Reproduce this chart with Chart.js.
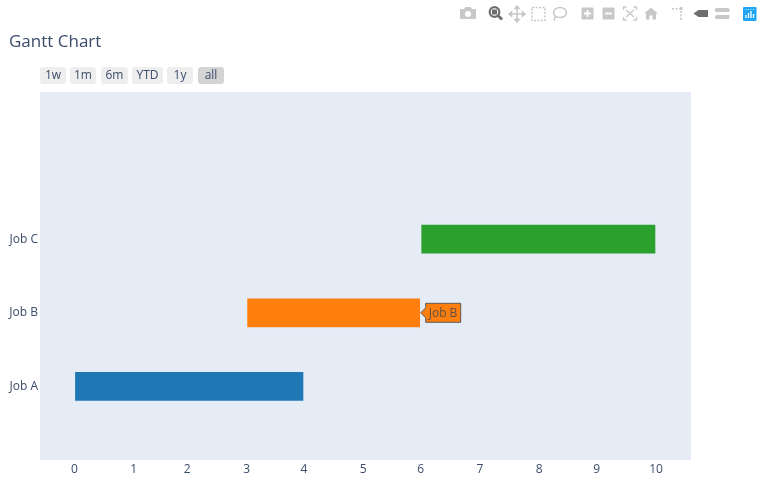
<!DOCTYPE html>
<html><head><meta charset="utf-8">
<script src="https://cdn.jsdelivr.net/npm/chart.js@4"></script>
<style>
html,body{margin:0;padding:0;background:#fff;overflow:hidden}
#wrap{position:relative;width:768px;height:495px;font-family:"Open Sans",sans-serif;color:#2a3f5f}
canvas{position:absolute;left:0;top:0}
#title{position:absolute;left:9px;top:31px;font-size:17px;line-height:20px;color:#3b4c6b}
.btn{position:absolute;top:67px;height:17px;line-height:16px;border-radius:3px;background:#eeeeee;text-align:center;font-size:12px;color:#3b4c6b}
.btn.on{background:#d4d4d4}
#tools{position:absolute;left:0;top:0}
</style></head><body>
<div id="wrap">
<canvas id="c" width="768" height="495"></canvas>
<div id="title">Gantt Chart</div>
<div class="btn" style="left:40px;width:26px">1w</div>
<div class="btn" style="left:70px;width:26px">1m</div>
<div class="btn" style="left:101px;width:27px">6m</div>
<div class="btn" style="left:132px;width:31px">YTD</div>
<div class="btn" style="left:167px;width:26px">1y</div>
<div class="btn on" style="left:198px;width:26px">all</div>
<svg id="tools" width="768" height="30" viewBox="0 0 768 30">
 <g fill="#c8c8c8" stroke="none">
  <path d="M461 9h3l1.5-2h5l1.5 2h3a1 1 0 0 1 1 1v8a1 1 0 0 1-1 1h-14a1 1 0 0 1-1-1v-8a1 1 0 0 1 1-1z"/>
  <circle cx="468" cy="14" r="3" fill="#fff"/>
 </g>
 <g fill="none" stroke="#6e6e6e" stroke-width="2.2">
  <circle cx="494.500" cy="12" r="4.800"/><path d="M498 15.500l4 4" stroke-width="2.800"/>
 </g>
 <rect x="492" y="9.500" width="5" height="5" fill="#6e6e6e"/>
 <g stroke="#c8c8c8" stroke-width="1.600" fill="#c8c8c8">
  <path d="M517 7v14M510 14h14"/>
  <path d="M517 6l-2 2.500h4zM517 22l-2-2.500h4zM509 14l2.500-2v4zM525 14l-2.500-2v4z"/>
 </g>
 <rect x="532" y="7.500" width="13" height="13" fill="none" stroke="#c8c8c8" stroke-width="1.500" stroke-dasharray="2 1.500"/>
 <ellipse cx="560" cy="12.500" rx="6.500" ry="5" fill="none" stroke="#c8c8c8" stroke-width="1.500"/>
 <path d="M555 16c0 2 0 3-1 4.500" fill="none" stroke="#c8c8c8" stroke-width="1.500"/>
 <rect x="581.500" y="7.500" width="12" height="12" rx="1" fill="#c8c8c8"/>
 <path d="M587.500 10v7M584 13.500h7" stroke="#fff" stroke-width="1.800"/>
 <rect x="602.500" y="7.500" width="12" height="12" rx="1" fill="#c8c8c8"/>
 <path d="M605 13.500h7" stroke="#fff" stroke-width="1.800"/>
 <g fill="none" stroke="#c8c8c8" stroke-width="1.300">
  <path d="M623.500 10V7h3M633.500 7h3v3M636.500 17v3h-3M626.500 20h-3v-3M626 10l8 7M634 10l-8 7"/>
 </g>
 <path d="M651 7.500l7 6h-2v6h-3.500v-4h-3v4H646v-6h-2z" fill="#c8c8c8"/>
 <g fill="#c8c8c8">
  <path d="M672 8h2v1.500h-2zM675.500 8h2v1.500h-2z"/>
  <circle cx="681" cy="8.500" r="1.800"/><rect x="680.200" y="11" width="1.600" height="2"/><rect x="680.200" y="14.500" width="1.600" height="2"/><rect x="680.200" y="18" width="1.600" height="2"/>
 </g>
 <path d="M693.500 13.500l5-3.500h9.500v7h-9.500z" fill="#6e6e6e"/>
 <path d="M716 8h12a1.500 1.500 0 0 1 1.500 1.500v2.500h-13.500l-1.500-2zM716 19h12a1.500 1.500 0 0 0 1.500-1.500v-2.500h-13.500l-1.500 2z" fill="#c8c8c8"/>
 <rect x="743" y="7" width="13.500" height="14" rx="1" fill="#1fa5f5"/>
 <path d="M746 18v-3M748.500 18v-5M751 18v-7M753.500 18v-4" stroke="#fff" stroke-width="1.300"/>
 <path d="M745.500 9.500h1M748 9.500h1M750.500 9.500h1M753 9.500h1" stroke="#fff" stroke-width="0.800"/>
</svg>
</div>
<script>
// The x axis is a date axis in the original: ticks 0..10 sit on month starts, measured here in days.
const categories = ["", "Job A", "Job B", "Job C", "", ""];
const startDays = [null, 0, 90, 181, null, null];
const finishDays = [null, 120, 181, 304, null, null];
const barColors = ["#1f77b4", "#1f77b4", "#ff7f0e", "#2ca02c", "#1f77b4", "#1f77b4"];
const xTickDays = [0, 31, 59, 90, 120, 151, 181, 212, 243, 273, 304];
const xTickLabels = ["0", "1", "2", "3", "4", "5", "6", "7", "8", "9", "10"];
const xMinDay = -18, xMaxDay = 322.3;
const hoverIndex = 2;

const FONT = '"Open Sans", sans-serif';
const INK = "#3b4c6b";

const hoverLabel = {
  id: "hoverLabel",
  afterDatasetsDraw(chart) {
    const c = chart.ctx;
    const x0 = chart.scales.x.getPixelForValue(finishDays[hoverIndex]);
    const y0 = chart.scales.y.getPixelForValue(hoverIndex);
    const text = categories[hoverIndex];
    c.save();
    c.font = "12px " + FONT;
    const w = 35, h = 19, tip = 5;
    const left = x0 + tip;
    c.beginPath();
    c.moveTo(x0, y0);
    c.lineTo(left, y0 - 5);
    c.lineTo(left, y0 - h / 2);
    c.lineTo(left + w, y0 - h / 2);
    c.lineTo(left + w, y0 + h / 2);
    c.lineTo(left, y0 + h / 2);
    c.lineTo(left, y0 + 5);
    c.closePath();
    c.fillStyle = barColors[hoverIndex];
    c.fill();
    c.lineWidth = 1;
    c.strokeStyle = "#5f5a57";
    c.stroke();
    c.fillStyle = "#5b5047";
    c.textAlign = "left";
    c.textBaseline = "middle";
    c.fillText(text, left + 3, y0 + 0.5);
    c.restore();
  }
};

new Chart(document.getElementById("c"), {
  type: "bar",
  data: {
    labels: categories,
    datasets: [{
      data: categories.map((_, i) => startDays[i] === null ? null : [startDays[i], finishDays[i]]),
      backgroundColor: barColors,
      borderColor: "rgba(229,236,246,0.25)",
      borderWidth: 1,
      borderSkipped: false,
      barThickness: 30
    }]
  },
  options: {
    indexAxis: "y",
    responsive: false,
    animation: false,
    devicePixelRatio: 1,
    layout: { padding: { top: 92, right: 77, left: 0, bottom: 0 } },
    plugins: { legend: { display: false }, tooltip: { enabled: false }, title: { display: false } },
    scales: {
      x: {
        type: "linear",
        min: xMinDay,
        max: xMaxDay,
        grid: { display: false, drawTicks: false },
        border: { display: false },
        afterFit(s) { s.height = 35; },
        afterBuildTicks(s) { s.ticks = xTickDays.map(v => ({ value: v })); },
        ticks: {
          color: INK,
          font: { family: FONT, size: 12 },
          padding: 2,
          maxRotation: 0,
          autoSkip: false,
          callback(value) { return xTickLabels[xTickDays.indexOf(value)]; }
        }
      },
      y: {
        type: "category",
        offset: false,
        reverse: true,
        grid: { display: false, drawTicks: false },
        border: { display: false },
        afterFit(s) { s.width = 40; },
        ticks: { color: INK, font: { family: FONT, size: 12 }, padding: 2, autoSkip: false }
      }
    }
  },
  plugins: [
    {
      id: "plotBg",
      beforeDraw(chart) {
        const a = chart.chartArea, c = chart.ctx;
        c.save();
        c.fillStyle = "#e5ecf6";
        c.fillRect(a.left, a.top, a.width, a.height);
        c.restore();
      }
    },
    hoverLabel
  ]
});
</script>
</body></html>
